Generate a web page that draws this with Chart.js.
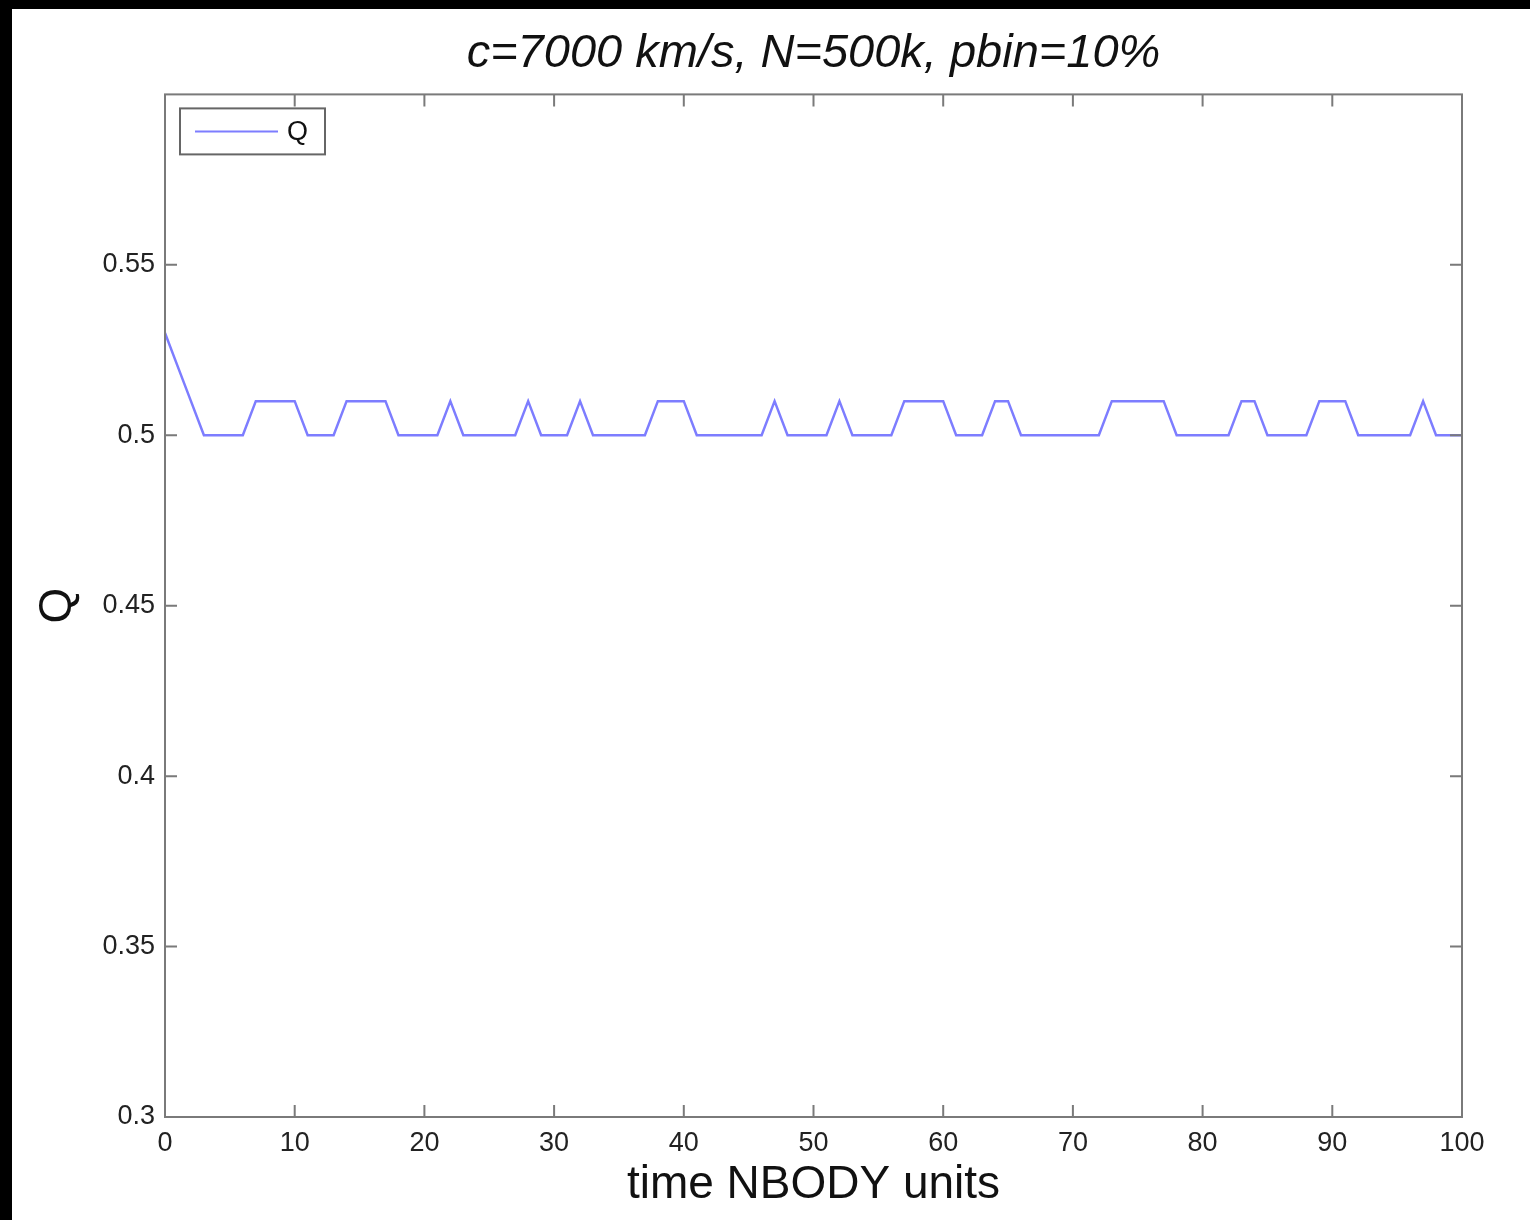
<!DOCTYPE html>
<html lang="en">
<head>
    <meta charset="UTF-8">
    <title>c=7000 km/s, N=500k, pbin=10%</title>
    <script src="https://cdn.jsdelivr.net/npm/chart.js"></script>
    <style>
        html, body { margin: 0; padding: 0; background: #000; }
        #panel { position: absolute; left: 12px; top: 9px; width: 1518px; height: 1211px; background: #fff; }
        #grafico { display: block; }
    </style>
</head>
<body>
    <div id="panel"><canvas id="grafico" width="1518" height="1211"></canvas></div>
    <script>
        // Tiempo (unidades NBODY)
        const tiempo = [
            0, 1, 2, 3, 4, 5, 6, 7, 8, 9, 10, 11, 12, 13, 14, 15, 16, 17, 18, 19, 20,
            21, 22, 23, 24, 25, 26, 27, 28, 29, 30, 31, 32, 33, 34, 35, 36, 37, 38, 39, 40,
            41, 42, 43, 44, 45, 46, 47, 48, 49, 50, 51, 52, 53, 54, 55, 56, 57, 58, 59, 60,
            61, 62, 63, 64, 65, 66, 67, 68, 69, 70, 71, 72, 73, 74, 75, 76, 77, 78, 79, 80,
            81, 82, 83, 84, 85, 86, 87, 88, 89, 90, 91, 92, 93, 94, 95, 96, 97, 98, 99, 100
        ];
        // Valores de Q
        const valoresQ = [
            0.53, 0.52, 0.51, 0.50, 0.50, 0.50, 0.50, 0.51, 0.51, 0.51, 0.51,
            0.50, 0.50, 0.50, 0.51, 0.51, 0.51, 0.51, 0.50, 0.50, 0.50,
            0.50, 0.51, 0.50, 0.50, 0.50, 0.50, 0.50, 0.51, 0.50, 0.50,
            0.50, 0.51, 0.50, 0.50, 0.50, 0.50, 0.50, 0.51, 0.51, 0.51,
            0.50, 0.50, 0.50, 0.50, 0.50, 0.50, 0.51, 0.50, 0.50, 0.50,
            0.50, 0.51, 0.50, 0.50, 0.50, 0.50, 0.51, 0.51, 0.51, 0.51,
            0.50, 0.50, 0.50, 0.51, 0.51, 0.50, 0.50, 0.50, 0.50, 0.50,
            0.50, 0.50, 0.51, 0.51, 0.51, 0.51, 0.51, 0.50, 0.50, 0.50,
            0.50, 0.50, 0.51, 0.51, 0.50, 0.50, 0.50, 0.50, 0.51, 0.51,
            0.51, 0.50, 0.50, 0.50, 0.50, 0.50, 0.51, 0.50, 0.50, 0.50
        ];
        const ticksX = [0, 10, 20, 30, 40, 50, 60, 70, 80, 90, 100];
        const ticksY = [0.3, 0.35, 0.4, 0.45, 0.5, 0.55];

        const titulo = 'c=7000 km/s, N=500k, pbin=10%';
        const tituloX = 'time NBODY units';
        const tituloY = 'Q';
        const colorLinea = '#7d7dff';
        const colorEje = '#7a7a7a';
        const fuente = "'Liberation Sans', Arial, Helvetica, sans-serif";

        // Marco, marcas hacia dentro, titulos de ejes y leyenda
        const marcoPlugin = {
            id: 'marco',
            afterDatasetsDraw(chart) {
                const ctx = chart.ctx;
                const a = chart.chartArea;
                const sx = chart.scales.x;
                const sy = chart.scales.y;
                const largo = 12;
                ctx.save();
                ctx.strokeStyle = colorEje;
                ctx.lineWidth = 2;
                ctx.strokeRect(a.left, a.top, a.right - a.left, a.bottom - a.top);
                ctx.beginPath();
                ticksX.forEach(v => {
                    const x = sx.getPixelForValue(v);
                    ctx.moveTo(x, a.bottom); ctx.lineTo(x, a.bottom - largo);
                    ctx.moveTo(x, a.top); ctx.lineTo(x, a.top + largo);
                });
                ticksY.forEach(v => {
                    const y = sy.getPixelForValue(v);
                    ctx.moveTo(a.left, y); ctx.lineTo(a.left + largo, y);
                    ctx.moveTo(a.right, y); ctx.lineTo(a.right - largo, y);
                });
                ctx.stroke();

                // titulos de ejes
                ctx.fillStyle = '#111';
                ctx.font = '46px ' + fuente;
                ctx.textAlign = 'center';
                ctx.textBaseline = 'middle';
                ctx.fillText(tituloX, (a.left + a.right) / 2, a.bottom + 68);
                ctx.save();
                ctx.translate(a.left - 107, (a.top + a.bottom) / 2);
                ctx.rotate(-Math.PI / 2);
                ctx.fillText(tituloY, 0, 0);
                ctx.restore();

                // leyenda
                const bx = a.left + 15, by = a.top + 14, bw = 145, bh = 46;
                ctx.fillStyle = '#fff';
                ctx.fillRect(bx, by, bw, bh);
                ctx.strokeStyle = '#666';
                ctx.lineWidth = 2;
                ctx.strokeRect(bx, by, bw, bh);
                ctx.strokeStyle = colorLinea;
                ctx.beginPath();
                ctx.moveTo(bx + 15, by + 23);
                ctx.lineTo(bx + 98, by + 23);
                ctx.stroke();
                ctx.fillStyle = '#111';
                ctx.font = '27px ' + fuente;
                ctx.textAlign = 'left';
                ctx.fillText(chart.data.datasets[0].label, bx + 107, by + 24);
                ctx.restore();
            }
        };

        new Chart(document.getElementById('grafico'), {
            type: 'line',
            data: {
                datasets: [{
                    label: 'Q',
                    data: tiempo.map((t, i) => ({ x: t, y: valoresQ[i] })),
                    borderColor: colorLinea,
                    borderWidth: 2.5,
                    pointRadius: 0,
                    fill: false,
                    tension: 0
                }]
            },
            options: {
                responsive: false,
                animation: false,
                layout: { padding: { left: 0, right: 68, top: 0, bottom: 0 } },
                plugins: {
                    legend: { display: false },
                    tooltip: { enabled: false },
                    title: {
                        display: true,
                        fullSize: false,
                        text: titulo,
                        color: '#111',
                        font: { family: fuente, size: 47, style: 'italic', weight: 'normal' },
                        padding: { top: 17, bottom: 12 }
                    }
                },
                scales: {
                    x: {
                        type: 'linear',
                        min: 0,
                        max: 100,
                        afterBuildTicks: s => { s.ticks = ticksX.map(v => ({ value: v })); },
                        afterFit: s => { s.height = 103; },
                        grid: { display: false, drawTicks: false },
                        border: { display: false },
                        ticks: {
                            padding: 10,
                            color: '#222',
                            maxRotation: 0,
                            font: { family: fuente, size: 27 },
                            callback: v => String(v)
                        }
                    },
                    y: {
                        type: 'linear',
                        min: 0.3,
                        max: 0.6,
                        afterBuildTicks: s => { s.ticks = ticksY.map(v => ({ value: v })); },
                        afterFit: s => { s.width = 153; },
                        grid: { display: false, drawTicks: false },
                        border: { display: false },
                        ticks: {
                            padding: 10,
                            color: '#222',
                            font: { family: fuente, size: 27 },
                            callback: v => String(v)
                        }
                    }
                }
            },
            plugins: [marcoPlugin]
        });
    </script>
</body>
</html>
